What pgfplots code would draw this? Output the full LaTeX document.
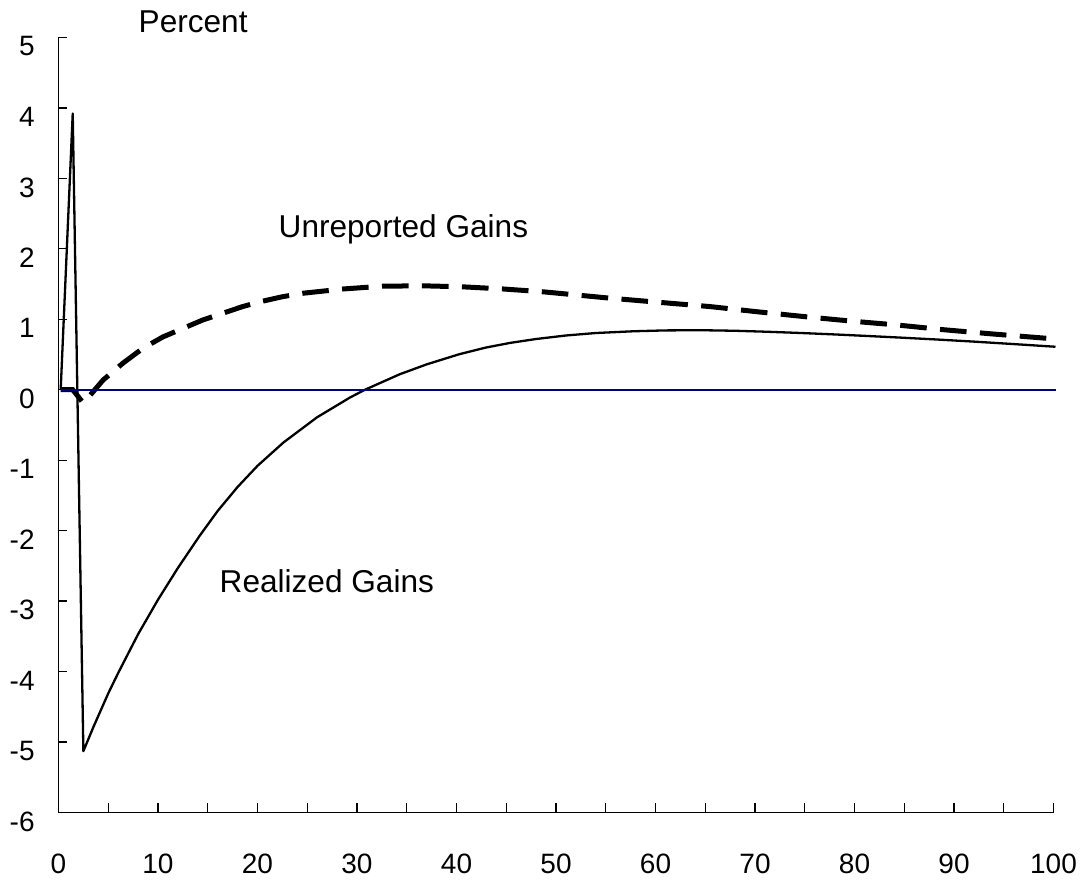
\documentclass[border=0pt]{standalone}
\usepackage{fontspec}
\setmainfont{Liberation Sans}
\usepackage{pgfplots}
\pgfplotsset{compat=1.18}
\definecolor{navyline}{RGB}{0,0,128}
\begin{document}
\begin{tikzpicture}
\begin{axis}[
  scale only axis, width=497.5pt, height=387.5pt,
  xmin=0, xmax=100, ymin=-6, ymax=5,
  axis x line=bottom, axis y line=left,
  axis line style={-, line width=0.7pt},
  xtick={0,5,...,100},
  xticklabels={0,,10,,20,,30,,40,,50,,60,,70,,80,,90,,100},
  ytick={-6,-5,...,5},
  tick align=inside,
  major tick length=4.5pt,
  tick style={black, line width=0.6pt},
  /pgf/number format/assume math mode=true,
  ticklabel style={font=\fontsize{14}{16}\selectfont, inner sep=0pt},
  xticklabel style={anchor=north, yshift=-20.5pt},
  yticklabel style={anchor=east, xshift=-11.75pt, yshift=-4.5pt},
  clip=false,
]
\addplot[black, line width=1.15pt, line join=round] coordinates {
(0.22,0) (1.43,3.92) (2.5,-5.13) (3.5,-4.79) (5,-4.31) (6,-4.02) (8,-3.47) (10,-2.98) (12,-2.53) (14.2,-2.07) (16,-1.72) (18,-1.38) (20,-1.08) (22.6,-0.75) (26,-0.39) (29.3,-0.11) (30.8,0.0) (34.3,0.22) (37,0.36) (40.3,0.505) (43,0.6) (45.4,0.665) (48,0.72) (51,0.77) (54,0.805) (57.8,0.83) (61,0.842) (64.5,0.845) (68,0.837) (71.2,0.823) (74.5,0.806) (78,0.785) (81,0.765) (84.6,0.74) (88,0.715) (92,0.683) (96,0.648) (100.2,0.61)
};
\addplot[black, line width=2.5pt, dash pattern=on 13.3pt off 6.7pt] coordinates {
(0.22,0) (1.43,0) (2.5,-0.19) (4.5,0.14) (6.5,0.38) (8.5,0.59) (10.5,0.75) (12.5,0.87) (14.5,0.99) (16.6,1.09) (18.5,1.18) (20.3,1.25) (22.5,1.32) (24.6,1.37) (28.6,1.43) (32.6,1.47) (36.7,1.475) (40.7,1.46) (44.7,1.43) (48.7,1.39) (55.4,1.30) (60,1.245) (65.5,1.18) (70,1.11) (75.5,1.03) (80,0.97) (84.2,0.92) (89.1,0.85) (94,0.79) (100.2,0.72)
};
\addplot[navyline, line width=1.2pt] coordinates {(0.22,0) (100.2,0)};
\node[anchor=base west, inner sep=0pt, font=\fontsize{15.8}{18}\selectfont] at (axis cs:8.02,5.074) {Percent};
\node[anchor=base west, inner sep=0pt, font=\fontsize{15.8}{18}\selectfont] at (axis cs:22.09,2.166) {Unreported Gains};
\node[anchor=base west, inner sep=0pt, font=\fontsize{15.8}{18}\selectfont] at (axis cs:16.16,-2.875) {Realized Gains};
\coordinate (bbbl) at (axis cs:-5.879,-7.007);
\coordinate (bbtr) at (axis cs:103.166,5.532);
\end{axis}
\pgfresetboundingbox
\path[use as bounding box] (bbbl) rectangle (bbtr);
\end{tikzpicture}
\end{document}
